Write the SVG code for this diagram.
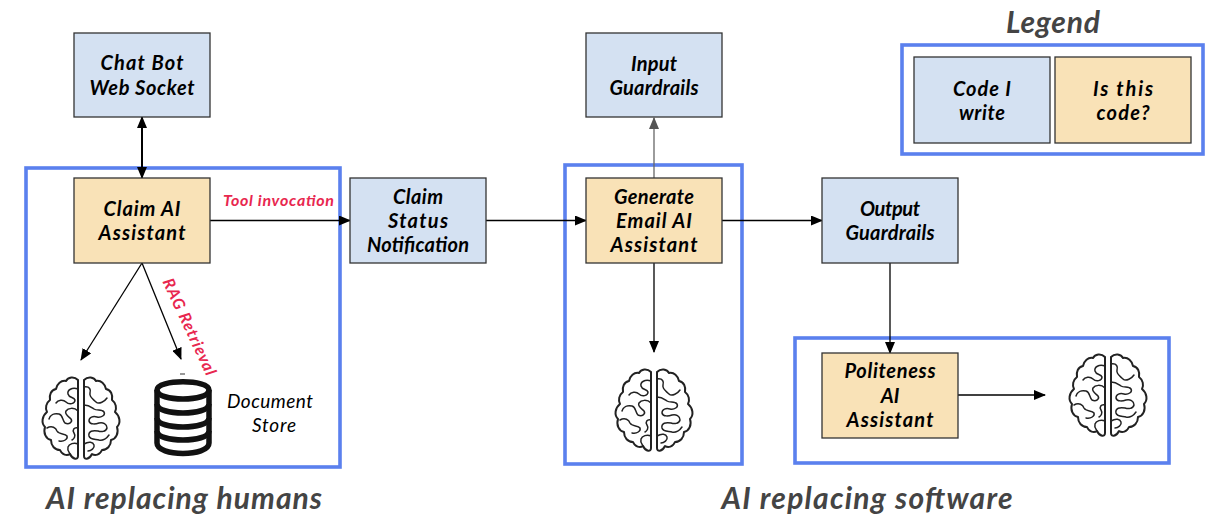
<svg xmlns="http://www.w3.org/2000/svg" width="1220" height="515" viewBox="0 0 1220 515">
<style>
text{font-family:"Lato","Liberation Sans",sans-serif;font-style:italic;text-anchor:middle}
.t{font-size:20px;font-weight:700;fill:#000}
.big{font-size:30px;font-weight:700;fill:#444}
.red{font-size:16px;font-weight:700;fill:#e8274f}
.doc{font-size:19px;fill:#000}
.blue{fill:#d4e1f2;stroke:#333;stroke-width:1.3}
.tan{fill:#f9e2b7;stroke:#333;stroke-width:1.3}
.frame{fill:none;stroke:#5b80ee;stroke-width:3.6}
.c{fill:none;stroke:#000;stroke-width:1.3}
.br{fill:none;stroke:#222;stroke-width:1.5;stroke-linecap:round;stroke-linejoin:round}
</style>
<defs>
<marker id="a" markerUnits="userSpaceOnUse" markerWidth="12" markerHeight="10" refX="11" refY="5" orient="auto-start-reverse"><path d="M0 0L12 5L0 10z" fill="#000"/></marker>
<marker id="g" markerUnits="userSpaceOnUse" markerWidth="12" markerHeight="10" refX="11" refY="5" orient="auto"><path d="M0 0L12 5L0 10z" fill="#555"/></marker>
<symbol id="brain" viewBox="0 0 80 85" overflow="visible">
<g class="br">
<path style="stroke-width:2" d="M37 4C33 0 27 1 25 5C20 4 16 8 15 13C10 14 8 19 9 24C5 27 4 32 6 36C1 40 0 47 4 51C2 57 5 63 10 64C10 70 14 74 19 74C21 79 26 80 29 78C32 84 37 84 37 80Z"/>
<path style="stroke-width:2" d="M43 4C47 0 53 1 55 5C60 4 64 8 65 13C70 14 72 19 71 24C75 27 76 32 74 36C79 40 80 47 76 51C78 57 75 63 70 64C70 70 66 74 61 74C59 79 54 80 51 78C48 84 43 84 43 80Z"/>
<path d="M37 13C31 11 26 14 27 18C28 22 33 21 34 24C34 28 28 29 25 26C22 23 17 24 15 27M37 35C33 31 27 32 25 35C23 38 28 41 30 43C32 46 28 49 24 47C21 44 22 39 18 38C13 37 9 39 8 43M6 52C11 49 15 52 16 55C18 59 24 57 26 60C27 63 23 66 18 65M37 52C33 51 31 54 33 57C35 60 33 63 31 64M37 68C33 66 28 68 27 71C26 74 28 76 29 78"/>
<path d="M43 11C49 10 50 14 49 17C48 21 52 23 55 26C58 29 64 25 66 22M43 29C48 29 50 31 53 33C56 35 61 33 63 36C65 39 60 42 56 41C52 40 48 41 48 45C49 49 55 48 58 47C62 46 66 48 66 52C65 56 60 56 57 55C52 54 47 55 48 60C49 64 55 63 58 64C62 65 66 62 68 59M43 68C48 65 52 66 53 69C54 72 50 75 47 75"/>
</g>
</symbol>
</defs>

<g id="frames">
<rect id="frame-humans" class="frame" x="26" y="168" width="314" height="299"/>
<rect id="frame-software-a" class="frame" x="565" y="165" width="177" height="299"/>
<rect id="frame-software-b" class="frame" x="795" y="338" width="374" height="125"/>
<rect id="frame-legend" class="frame" x="902" y="45" width="301" height="109"/>
</g>

<g id="connectors">
<path class="c" style="stroke-width:2" d="M142 117V178" marker-start="url(#a)" marker-end="url(#a)"/>
<path class="c" d="M210 220.500H350" marker-end="url(#a)"/>
<path class="c" d="M142 263L81 360" marker-end="url(#a)"/>
<path class="c" d="M142 263L181 359" marker-end="url(#a)"/>
<path class="c" d="M486 220.500H586" marker-end="url(#a)"/>
<path class="c" style="stroke:#666" d="M654 178V118" marker-end="url(#g)"/>
<path class="c" d="M722 220.500H822" marker-end="url(#a)"/>
<path class="c" d="M654 263V352" marker-end="url(#a)"/>
<path class="c" d="M890 263V353" marker-end="url(#a)"/>
<path class="c" d="M958 395H1045" marker-end="url(#a)"/>
</g>

<g id="chat-bot"><rect class="blue" x="74" y="33" width="136" height="84"/><text class="t" x="142" y="70" textLength="83">Chat Bot</text><text class="t" x="142" y="95" textLength="105">Web Socket</text></g>
<g id="claim-ai"><rect class="tan" x="74" y="178" width="136" height="85"/><text class="t" x="142" y="216" textLength="77">Claim AI</text><text class="t" x="142" y="240" textLength="87">Assistant</text></g>
<g id="claim-status"><rect class="blue" x="350" y="178" width="136" height="85"/><text class="t" x="418" y="204" textLength="50">Claim</text><text class="t" x="418" y="228" textLength="60">Status</text><text class="t" x="418" y="252" textLength="102">Notification</text></g>
<g id="input-guardrails"><rect class="blue" x="586" y="33" width="136" height="84"/><text class="t" x="654" y="71" textLength="46">Input</text><text class="t" x="654" y="95" textLength="89">Guardrails</text></g>
<g id="generate-email"><rect class="tan" x="586" y="178" width="136" height="85"/><text class="t" x="654" y="204" textLength="80">Generate</text><text class="t" x="654" y="228" textLength="76">Email AI</text><text class="t" x="654" y="252" textLength="87">Assistant</text></g>
<g id="output-guardrails"><rect class="blue" x="822" y="178" width="136" height="85"/><text class="t" x="890" y="216" textLength="60">Output</text><text class="t" x="890" y="240" textLength="89">Guardrails</text></g>
<g id="politeness"><rect class="tan" x="822" y="353" width="136" height="85"/><text class="t" x="890" y="378" textLength="91">Politeness</text><text class="t" x="890" y="403">AI</text><text class="t" x="890" y="427" textLength="87">Assistant</text></g>
<g id="legend-code"><rect class="blue" x="914" y="57" width="136" height="86"/><text class="t" x="982" y="96" textLength="58">Code I</text><text class="t" x="982" y="120" textLength="46">write</text></g>
<g id="legend-isthis"><rect class="tan" x="1055" y="57" width="136" height="86"/><text class="t" x="1123" y="96" textLength="60">Is this</text><text class="t" x="1123" y="120" textLength="53">code?</text></g>

<g id="brain-1"><use href="#brain" x="41" y="376" width="80" height="85"/></g>
<g id="brain-2"><use href="#brain" x="614" y="368" width="80" height="85"/></g>
<g id="brain-3"><use href="#brain" x="1068" y="353" width="80" height="85"/></g>

<g id="document-store">
<path d="M180 374h5" stroke="#555" stroke-width="1.200"/>
<g fill="none" stroke="#111" stroke-width="5.500">
<path d="M157 390C157 379 209 379 209 390V443C209 457 157 457 157 443Z"/>
<path d="M157 390C157 402 209 402 209 390"/>
<path d="M157 404C157 416 209 416 209 404"/>
<path d="M157 418C157 430 209 430 209 418"/>
<path d="M157 431C157 443 209 443 209 431"/>
</g>
<text class="doc" x="270" y="408" textLength="86">Document</text>
<text class="doc" x="274" y="432" textLength="44">Store</text>
</g>

<g id="labels">
<text class="red" x="278.500" y="206" textLength="111">Tool invocation</text>
<text class="red" transform="translate(189 327) rotate(65)" x="0" y="5" textLength="105">RAG Retrieval</text>
<text class="big" x="184" y="509" textLength="276">AI replacing humans</text>
<text class="big" x="867" y="509" textLength="291">AI replacing software</text>
<text class="big" x="1053" y="33" textLength="94">Legend</text>
</g>
</svg>
